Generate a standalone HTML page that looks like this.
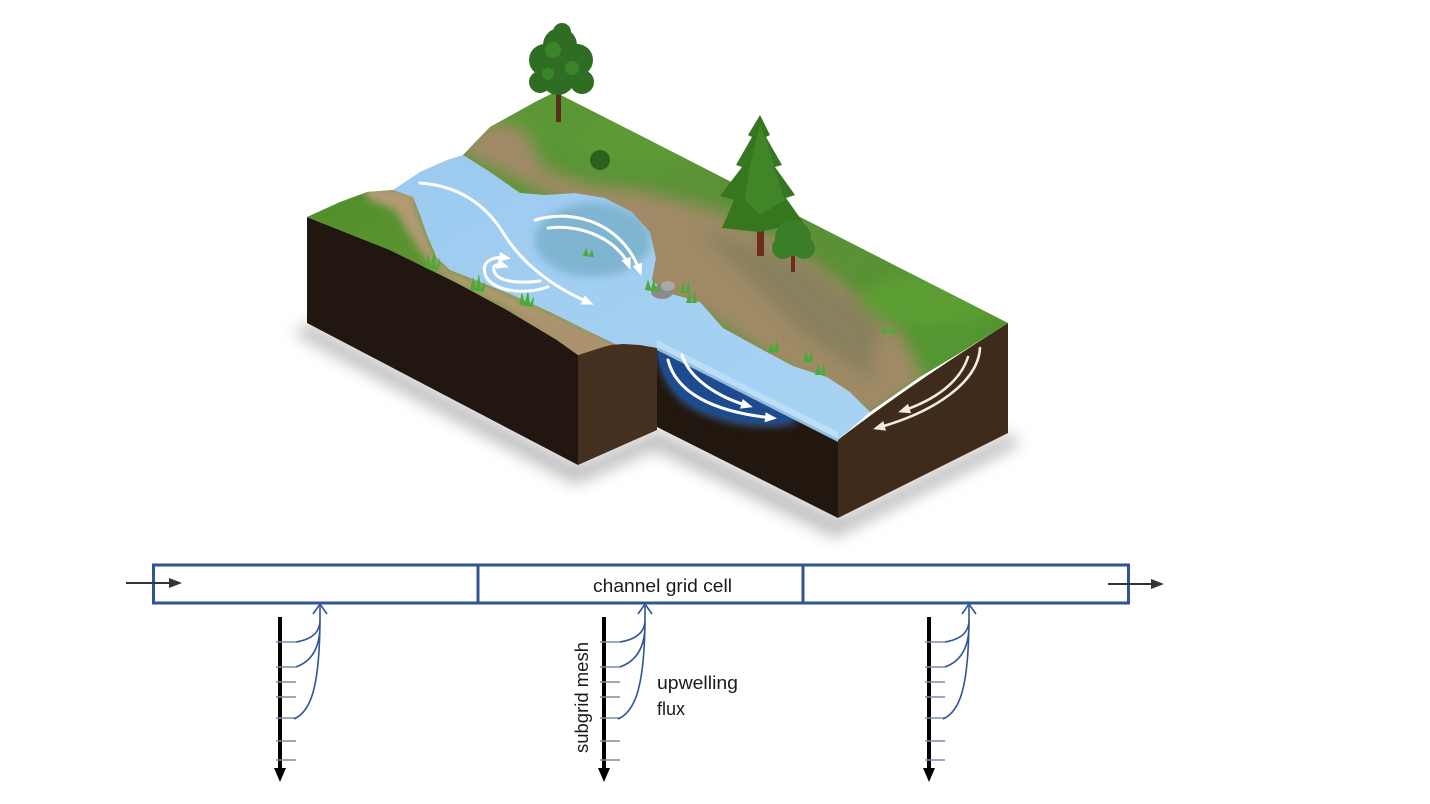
<!DOCTYPE html>
<html>
<head>
<meta charset="utf-8">
<style>
html,body{margin:0;padding:0;background:#fff;}
body{width:1430px;height:804px;overflow:hidden;}
svg{display:block;}
text{font-family:"Liberation Sans",sans-serif;fill:#1a1a1a;}
</style>
</head>
<body>
<svg width="1430" height="804" viewBox="0 0 1430 804" xmlns="http://www.w3.org/2000/svg">
<defs>
  <filter id="b2" x="-20%" y="-20%" width="140%" height="140%"><feGaussianBlur stdDeviation="2"/></filter>
  <filter id="b4" x="-30%" y="-30%" width="160%" height="160%"><feGaussianBlur stdDeviation="4"/></filter>
  <filter id="b8" x="-30%" y="-30%" width="160%" height="160%"><feGaussianBlur stdDeviation="8"/></filter>
  <linearGradient id="grassL" x1="0" y1="0" x2="1" y2="1">
    <stop offset="0" stop-color="#4f8f2a"/>
    <stop offset="1" stop-color="#6b9a3a"/>
  </linearGradient>
  <linearGradient id="grassR" x1="0" y1="0" x2="1" y2="1">
    <stop offset="0" stop-color="#5a9a34"/>
    <stop offset="0.5" stop-color="#5d8f38"/>
    <stop offset="1" stop-color="#4f9a2e"/>
  </linearGradient>
  <linearGradient id="water" x1="0" y1="0" x2="1" y2="1">
    <stop offset="0" stop-color="#9ccaf0"/>
    <stop offset="1" stop-color="#a9d3f2"/>
  </linearGradient>
  <clipPath id="rbClip">
    <polygon points="463,155 490,127 535,102 555,92 1008,323 960,353 920,377 870,412 850,392 827,377 793,366 763,350 723,328 700,302 665,292 652,280 656,258 650,232 632,212 605,198 575,193 545,195 520,193 490,172"/>
  </clipPath>
  <clipPath id="lbClip">
    <polygon points="307,217 340,202 367,192 393,190 413,197 420,215 427,235 437,258 450,270 470,278 510,294 550,312 590,332 615,344 603,347 578,355 557,340 507,310 457,283 390,250"/>
  </clipPath>
  <clipPath id="faceClip">
    <polygon points="657,348 838,440 838,518 657,427"/>
  </clipPath>
  <marker id="wa" markerWidth="12" markerHeight="10" refX="8" refY="5" orient="auto" markerUnits="userSpaceOnUse">
    <path d="M0,0 L12,5 L0,10 Z" fill="#fff"/>
  </marker>
  <marker id="ca" markerWidth="12" markerHeight="10" refX="8" refY="5" orient="auto" markerUnits="userSpaceOnUse">
    <path d="M0,0 L12,5 L0,10 Z" fill="#f3ece0"/>
  </marker>
</defs>

<!-- ground shadow -->
<polygon points="295,334 575,484 655,449 835,537 1020,444 1008,433 838,518 657,430 578,465 307,323" fill="#777" opacity="0.5" filter="url(#b8)"/>

<!-- left block front face -->
<polygon points="307,217 390,250 457,283 507,310 557,340 578,355 578,465 307,323" fill="#211710"/>
<!-- left block side face -->
<polygon points="578,355 603,345 623,344 640,344 657,346 657,430 578,465" fill="#43301f"/>
<!-- middle front face -->
<polygon points="657,348 838,440 838,518 657,427" fill="#21170f"/>
<g clip-path="url(#faceClip)">
  <path d="M657,350 L800,423 C765,433 705,423 680,400 C664,385 659,368 657,350 Z" fill="#3d7ad0" opacity="0.6" filter="url(#b4)"/>
  <path d="M657,350 L795,420 C760,428 705,418 682,398 C667,385 660,368 657,350 Z" fill="#1d4b90"/>
</g>
<!-- right block side face -->
<path d="M838,440 C870,415 930,372 1008,323 L1008,433 L838,518 Z" fill="#3f2b1b"/>

<!-- water surface -->
<polygon points="393,190 420,172 447,160 463,155 490,172 520,193 545,195 575,193 605,198 632,212 650,232 656,258 652,280 665,292 700,302 723,328 763,350 793,366 827,377 850,392 870,412 838,440 657,348 640,345 623,344 603,345 590,332 550,312 510,294 470,278 450,270 437,258 427,235 420,215 413,197" fill="url(#water)"/>
<!-- pool tint -->
<ellipse cx="593" cy="240" rx="58" ry="37" fill="#6aa6bc" opacity="0.6" filter="url(#b4)"/>
<!-- water front edge -->
<polygon points="657,340 838,432 838,442 657,350" fill="#c3e0f6" opacity="0.8"/>
<line x1="657" y1="348" x2="838" y2="440" stroke="#8ebfe6" stroke-width="2"/>

<!-- left bank -->
<g clip-path="url(#lbClip)">
  <rect x="300" y="180" width="330" height="180" fill="url(#grassL)"/>
  <polygon points="360,185 413,190 420,215 427,235 437,258 450,270 470,278 510,294 550,312 590,332 630,350 578,360 540,330 500,305 455,285 430,265 410,235 395,210 370,200" fill="#b29a72" filter="url(#b4)"/>
  <polygon points="500,300 630,345 578,360 520,320" fill="#a99070" opacity="0.7" filter="url(#b4)"/>
</g>

<!-- right bank -->
<g clip-path="url(#rbClip)">
  <rect x="455" y="85" width="560" height="335" fill="url(#grassR)"/>
  <polygon points="455,150 490,120 525,130 545,170 590,185 640,190 720,212 790,245 850,290 900,330 925,380 870,420 800,380 700,310 640,290 560,200" fill="#a08a66" filter="url(#b8)"/>
  <polygon points="700,230 800,260 880,320 870,380 800,330" fill="#7f7d5a" opacity="0.7" filter="url(#b8)"/>
  <ellipse cx="930" cy="300" rx="70" ry="25" fill="#5ea136" opacity="0.8" filter="url(#b8)"/>
  <ellipse cx="640" cy="140" rx="70" ry="30" fill="#5c9b35" opacity="0.8" filter="url(#b8)"/>
</g>

<!-- stones -->
<ellipse cx="662" cy="292" rx="11" ry="7" fill="#8c8c8c"/>
<ellipse cx="668" cy="286" rx="7" ry="5" fill="#a8a8a8"/>

<!-- plants -->
<g fill="#4caa3a">
  <polygon points="425,268 428,253 431,266 434,250 436,267 440,258 439,270"/>
  <polygon points="470,290 473,277 476,288 479,274 481,289 485,281 484,292"/>
  <polygon points="519,305 522,292 525,303 528,289 530,304 534,296 533,307"/>
  <polygon points="583,256 586,248 589,256 592,249 594,257"/>
  <polygon points="645,290 648,279 651,289 654,277 656,290 660,283 659,292"/>
  <polygon points="680,293 683,282 686,292 689,280 690,293"/>
  <polygon points="686,303 689,293 692,302 695,291 697,303"/>
  <polygon points="768,352 771,342 774,351 777,340 779,352"/>
  <polygon points="803,362 806,350 809,360 812,349 813,362"/>
  <polygon points="815,375 818,364 821,374 824,362 826,375"/>
  <polygon points="880,333 884,326 888,333 892,327 896,334"/>
</g>

<!-- trees -->
<rect x="556" y="92" width="5" height="30" fill="#5a2d16"/>
<g fill="#2f6e22">
  <circle cx="560" cy="45" r="17"/>
  <circle cx="545" cy="60" r="16"/>
  <circle cx="577" cy="60" r="16"/>
  <circle cx="558" cy="78" r="17"/>
  <circle cx="540" cy="82" r="11"/>
  <circle cx="582" cy="82" r="12"/>
  <circle cx="562" cy="32" r="9"/>
</g>
<g fill="#3f8a2c" opacity="0.8">
  <circle cx="553" cy="50" r="8"/>
  <circle cx="572" cy="68" r="7"/>
  <circle cx="548" cy="74" r="6"/>
</g>
<circle cx="600" cy="160" r="10" fill="#2b6220"/>

<rect x="757" y="222" width="7" height="34" fill="#6b2e18"/>
<polygon points="760,115 770,135 766,137 782,165 775,167 795,195 786,198 803,222 760,232 722,228 734,200 720,196 742,167 736,165 752,137 748,135" fill="#35761f"/>
<polygon points="760,125 768,145 775,170 785,200 760,215 745,200 750,165" fill="#4a8f2e" opacity="0.6"/>
<rect x="791" y="252" width="4" height="20" fill="#6b2e18"/>
<circle cx="793" cy="238" r="18" fill="#3a7f27"/>
<circle cx="783" cy="248" r="11" fill="#3a7f27"/>
<circle cx="804" cy="248" r="11" fill="#3a7f27"/>

<!-- white flow arrows on top -->
<g fill="none" stroke="#fff" stroke-width="3" stroke-linecap="round">
  <path d="M420,183 C462,186 488,208 504,234 C520,260 548,285 590,303" marker-end="url(#wa)"/>
  <path d="M535,220 C580,207 625,228 640,272" marker-end="url(#wa)"/>
  <path d="M548,228 C585,223 620,243 629,266" marker-end="url(#wa)"/>
  <path d="M548,287 C520,296 490,290 485,274 C481,260 495,256 507,258" marker-end="url(#wa)"/>
  <path d="M540,281 C515,284 497,281 494,271 C492,264 498,264 505,266" marker-end="url(#wa)"/>
  <path d="M668,360 C676,392 712,412 773,418" marker-end="url(#wa)"/>
  <path d="M682,355 C690,380 720,398 749,406" marker-end="url(#wa)"/>
</g>
<g fill="none" stroke="#f3ece0" stroke-width="2.6" stroke-linecap="round">
  <path d="M980,348 C978,382 935,412 877,428" marker-end="url(#ca)"/>
  <path d="M968,357 C960,382 935,400 902,411" marker-end="url(#ca)"/>
</g>

<!-- ===== diagram ===== -->
<rect x="153.5" y="565" width="975" height="38" fill="none" stroke="#2f5597" stroke-width="3"/>
<line x1="478" y1="565" x2="478" y2="603" stroke="#2f5597" stroke-width="3"/>
<line x1="803" y1="565" x2="803" y2="603" stroke="#2f5597" stroke-width="3"/>

<line x1="126" y1="583" x2="172" y2="583" stroke="#333" stroke-width="2"/>
<polygon points="182,583 169,578 169,588" fill="#333"/>
<line x1="1108" y1="584" x2="1154" y2="584" stroke="#333" stroke-width="2"/>
<polygon points="1164,584 1151,579 1151,589" fill="#333"/>

<text x="593" y="592" font-size="18" textLength="139" lengthAdjust="spacingAndGlyphs">channel grid cell</text>

<g>
  <g transform="translate(280,0)">
    <line x1="0" y1="617" x2="0" y2="770" stroke="#000" stroke-width="4"/>
    <polygon points="-6,768 6,768 0,782" fill="#000"/>
    <path d="M-4,642H16 M-4,667H16 M-4,682H16 M-4,697H16 M-4,718H16 M-4,741H16 M-4,760H16" stroke="#7d8ba0" stroke-width="1.5"/>
    <path d="M16,642 C28,640 40,635 40,620 M16,667 C30,662 40,650 40,625 M14,719 C30,712 40,690 40,615 M40,625 L40,606" stroke="#2f5597" stroke-width="1.6" fill="none"/>
    <path d="M33,614 L40,604 L47,614" stroke="#2f5597" stroke-width="1.6" fill="none"/>
  </g>
  <g transform="translate(604,0)">
    <line x1="0" y1="617" x2="0" y2="770" stroke="#000" stroke-width="4"/>
    <polygon points="-6,768 6,768 0,782" fill="#000"/>
    <path d="M-4,642H16 M-4,667H16 M-4,682H16 M-4,697H16 M-4,718H16 M-4,741H16 M-4,760H16" stroke="#7d8ba0" stroke-width="1.5"/>
    <path d="M16,642 C28,640 41,635 41,620 M16,667 C30,662 41,650 41,625 M14,719 C30,712 41,690 41,615 M41,625 L41,606" stroke="#2f5597" stroke-width="1.6" fill="none"/>
    <path d="M34,614 L41,604 L48,614" stroke="#2f5597" stroke-width="1.6" fill="none"/>
  </g>
  <g transform="translate(929,0)">
    <line x1="0" y1="617" x2="0" y2="770" stroke="#000" stroke-width="4"/>
    <polygon points="-6,768 6,768 0,782" fill="#000"/>
    <path d="M-4,642H16 M-4,667H16 M-4,682H16 M-4,697H16 M-4,718H16 M-4,741H16 M-4,760H16" stroke="#7d8ba0" stroke-width="1.5"/>
    <path d="M16,642 C28,640 40,635 40,620 M16,667 C30,662 40,650 40,625 M14,719 C30,712 40,690 40,615 M40,625 L40,606" stroke="#2f5597" stroke-width="1.6" fill="none"/>
    <path d="M33,614 L40,604 L47,614" stroke="#2f5597" stroke-width="1.6" fill="none"/>
  </g>
</g>

<text x="0" y="0" font-size="18" textLength="111" lengthAdjust="spacingAndGlyphs" transform="translate(588,753) rotate(-90)">subgrid mesh</text>
<text x="657" y="689" font-size="18" textLength="81" lengthAdjust="spacingAndGlyphs">upwelling</text>
<text x="657" y="715" font-size="18">flux</text>
</svg>
</body>
</html>
